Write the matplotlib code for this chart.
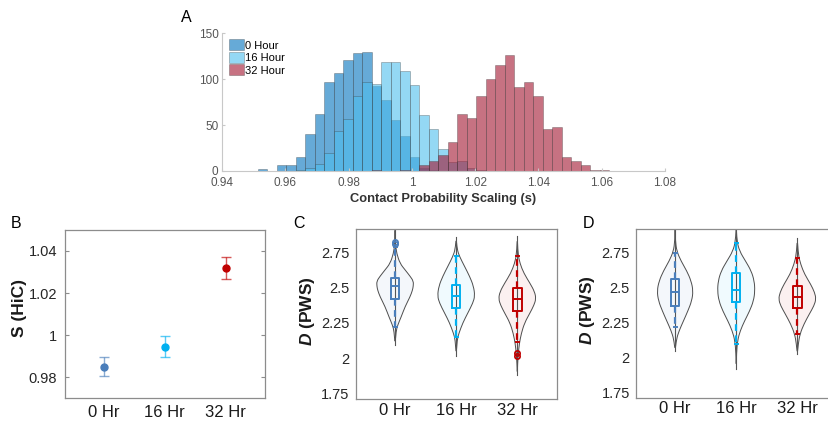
import numpy as np
import matplotlib
matplotlib.use("Agg")
import matplotlib.pyplot as plt
from matplotlib.colors import to_rgba
from matplotlib.path import Path
from matplotlib.patches import PathPatch

plt.rcParams['font.family'] = ['Liberation Sans', 'DejaVu Sans']
plt.rcParams['mathtext.fontset'] = 'custom'
plt.rcParams['mathtext.rm'] = 'Liberation Sans'
plt.rcParams['mathtext.bfit'] = 'Liberation Sans:italic:bold'

# --- Panel A: histogram counts, bins of 0.003 starting at 0.9513 ---
bin_start = 0.9513
bin_width = 0.003
hour0_counts = [2, 0, 6, 7, 15, 40, 62, 97, 106, 121, 128, 129, 92, 77, 55, 38, 15, 3, 1]
hour16_counts = [0, 0, 0, 0, 1, 3, 8, 20, 43, 57, 82, 97, 95, 118, 118, 109, 93, 61, 46,
                 24, 10, 11, 3, 1]
hour32_counts = [0] * 12 + [1, 0, 0, 1, 0, 7, 11, 17, 31, 62, 58, 81, 100, 115, 126, 91, 97,
                            82, 46, 48, 15, 11, 6, 1, 1]
hist_labels = ['0 Hour', '16 Hour', '32 Hour']
hist_colors = ['#0072BD', '#4DBEEE', '#A2142F']
a_xticks = [0.94, 0.96, 0.98, 1.00, 1.02, 1.04, 1.06, 1.08]
a_xtick_labels = ['0.94', '0.96', '0.98', '1', '1.02', '1.04', '1.06', '1.08']
a_yticks = [0, 50, 100, 150]

# --- Panel B: mean S (HiC) with error ---
groups = ['0 Hr', '16 Hr', '32 Hr']
group_colors = ['#4a7ebb', '#00b0f0', '#c00000']
b_means = [0.985, 0.9945, 1.0318]
b_errors = [0.0047, 0.005, 0.0053]
b_yticks = [0.98, 1.00, 1.02, 1.04]
b_ytick_labels = ['0.98', '1', '1.02', '1.04']

# --- Panels C and D: D (PWS) violins + boxplots ---
d_yticks = [1.75, 2.0, 2.25, 2.5, 2.75]
d_ytick_labels = ['1.75', '2', '2.25', '2.5', '2.75']

c_q1 = [2.417, 2.353, 2.336]
c_med = [2.511, 2.44, 2.42]
c_q3 = [2.570, 2.518, 2.495]
c_whislo = [2.218, 2.147, 2.116]
c_whishi = [2.79, 2.724, 2.724]
c_fliers = [[2.81, 2.826], [], [2.035, 2.012]]
c_line_lo = [2.09, 2.015, 1.88]
c_line_hi = [2.95, 2.856, 2.866]
c_violin_y = [
    [2.09, 2.19, 2.235, 2.29, 2.365, 2.435, 2.48, 2.51, 2.545, 2.58, 2.625, 2.67, 2.74, 2.81, 2.95],
    [2.015, 2.13, 2.175, 2.25, 2.32, 2.39, 2.44, 2.51, 2.58, 2.65, 2.72, 2.77, 2.856],
    [1.88, 1.96, 2.03, 2.10, 2.175, 2.25, 2.32, 2.375, 2.42, 2.47, 2.53, 2.60, 2.67, 2.74, 2.866],
]
c_violin_w = [
    [0, 0.016, 0.044, 0.098, 0.164, 0.246, 0.284, 0.298, 0.30, 0.246, 0.164, 0.082, 0.027, 0.005, 0],
    [0, 0.016, 0.044, 0.109, 0.191, 0.273, 0.306, 0.284, 0.219, 0.137, 0.055, 0.016, 0],
    [0, 0.005, 0.016, 0.033, 0.066, 0.12, 0.208, 0.273, 0.306, 0.284, 0.208, 0.109, 0.044, 0.011, 0],
]

d_q1 = [2.368, 2.396, 2.351]
d_med = [2.467, 2.479, 2.432]
d_q3 = [2.561, 2.599, 2.509]
d_whislo = [2.215, 2.097, 2.167]
d_whishi = [2.745, 2.816, 2.705]
d_fliers = [[], [], []]
d_line_lo = [2.042, 1.92, 2.021]
d_line_hi = [2.95, 2.95, 2.851]
d_violin_y = [
    [2.042, 2.13, 2.19, 2.26, 2.33, 2.403, 2.474, 2.545, 2.616, 2.686, 2.757, 2.83, 2.95],
    [1.92, 2.03, 2.12, 2.19, 2.26, 2.33, 2.403, 2.474, 2.545, 2.616, 2.686, 2.757, 2.83, 2.95],
    [2.021, 2.097, 2.167, 2.238, 2.309, 2.368, 2.415, 2.462, 2.521, 2.592, 2.663, 2.733, 2.851],
]
d_violin_w = [
    [0, 0.022, 0.066, 0.137, 0.208, 0.273, 0.295, 0.262, 0.191, 0.098, 0.027, 0.005, 0],
    [0, 0.005, 0.022, 0.066, 0.137, 0.219, 0.284, 0.306, 0.295, 0.246, 0.153, 0.055, 0.011, 0],
    [0, 0.016, 0.044, 0.109, 0.197, 0.273, 0.306, 0.284, 0.219, 0.12, 0.055, 0.016, 0],
]

positions = [1, 2, 3]

fig = plt.figure(figsize=(8.29, 4.26), dpi=100)

# ---------------- Panel A ----------------
ax_a = fig.add_axes([0.2678, 0.5986, 0.5344, 0.3239])
edges = bin_start + bin_width * np.arange(len(hour32_counts) + 1)
for counts, color, label in zip([hour0_counts, hour16_counts, hour32_counts],
                                hist_colors, hist_labels):
    counts = np.array(counts)
    left = edges[:len(counts)]
    keep = counts > 0
    ax_a.bar(left[keep], counts[keep], width=bin_width, align='edge',
             facecolor=to_rgba(color, 0.6), edgecolor=(0.2, 0.2, 0.2, 0.35),
             linewidth=0.6, label=label)
ax_a.set_xlim(0.94, 1.08)
ax_a.set_ylim(0, 150)
ax_a.set_xticks(a_xticks)
ax_a.set_xticklabels(a_xtick_labels)
ax_a.set_yticks(a_yticks)
for side in ['top', 'right']:
    ax_a.spines[side].set_visible(False)
for side in ['left', 'bottom']:
    ax_a.spines[side].set_color('#c8c8c8')
    ax_a.spines[side].set_linewidth(0.8)
ax_a.tick_params(direction='in', length=2.5, color='#c8c8c8', labelcolor='#555555',
                 labelsize=8.5)
ax_a.tick_params(axis='x', pad=4.5)
ax_a.tick_params(axis='y', pad=2.5)
ax_a.set_xlabel('Contact Probability Scaling (s)', fontsize=9.3, fontweight='bold',
                color='#333333', labelpad=3)
ax_a.legend(loc='upper left', bbox_to_anchor=(0.016, 0.955), frameon=False, fontsize=8,
            handlelength=1.3, handleheight=1.15, handletextpad=0.15, labelspacing=0.12,
            borderpad=0, borderaxespad=0)


def style_frame(ax):
    for side in ['top', 'right', 'left', 'bottom']:
        ax.spines[side].set_color('#8c8c8c')
        ax.spines[side].set_linewidth(0.9)
    ax.set_xlim(0.36, 3.65)
    ax.set_xticks(positions)
    ax.set_xticklabels(groups)
    ax.tick_params(axis='x', length=0, labelsize=12, labelcolor='#1a1a1a')
    ax.tick_params(axis='y', labelsize=10.5, labelcolor='#262626')


# ---------------- Panel B ----------------
ax_b = fig.add_axes([0.0784, 0.0657, 0.2413, 0.3944])
for p, m, e, c in zip(positions, b_means, b_errors, group_colors):
    ax_b.errorbar(p, m, yerr=e, fmt='o', color=c, ecolor=to_rgba(c, 0.65),
                  ms=5, elinewidth=1, capsize=3.5, capthick=1)
ax_b.set_ylim(0.97, 1.05)
ax_b.set_yticks(b_yticks)
ax_b.set_yticklabels(b_ytick_labels)
style_frame(ax_b)
ax_b.tick_params(axis='x', pad=5)
ax_b.tick_params(axis='y', direction='in', length=3, color='#8c8c8c', right=True, pad=5.5)
ax_b.set_ylabel('S (HiC)', fontsize=12.5, fontweight='bold', color='#1a1a1a')
ax_b.yaxis.set_label_coords(-0.19, 0.536)


def smooth_outline(xs, ys):
    # quadratic curves through midpoints of the read outline points (closed loop)
    pts = np.column_stack([xs, ys])
    n = len(pts)
    mids = (pts + np.roll(pts, -1, axis=0)) / 2
    verts = [mids[-1]]
    codes = [Path.MOVETO]
    for i in range(n):
        verts += [pts[i], mids[i]]
        codes += [Path.CURVE3, Path.CURVE3]
    verts.append(mids[-1])
    codes.append(Path.CLOSEPOLY)
    return Path(verts, codes)


def draw_violins(ax, vy, vw, lo, hi, q1, med, q3, wlo, whi, fliers):
    for i, p in enumerate(positions):
        c = group_colors[i]
        y = np.array(vy[i])
        w = np.array(vw[i])
        xs = np.concatenate([p + w, (p - w)[::-1][1:-1]])
        ys = np.concatenate([y, y[::-1][1:-1]])
        patch = PathPatch(smooth_outline(xs, ys), facecolor=to_rgba(c, 0.06),
                          edgecolor='#4d4d4d', linewidth=0.7, zorder=1)
        ax.add_patch(patch)
        ax.plot([p, p], [lo[i], hi[i]], color='#555555', lw=0.8, zorder=2)
        stats = [dict(med=med[i], q1=q1[i], q3=q3[i], whislo=wlo[i], whishi=whi[i],
                      fliers=fliers[i])]
        ax.bxp(stats, positions=[p], widths=0.14, capwidths=0.05, manage_ticks=False,
               boxprops=dict(color=c, lw=1.4),
               whiskerprops=dict(color=c, lw=1.6, linestyle=(0, (3.0, 2.0))),
               capprops=dict(color=c, lw=1.4),
               medianprops=dict(color=c, lw=1.4),
               flierprops=dict(marker='o', markersize=3.8, markerfacecolor='none',
                               markeredgecolor=c, markeredgewidth=1.2),
               zorder=3)


# ---------------- Panel C ----------------
ax_c = fig.add_axes([0.4294, 0.0634, 0.2425, 0.3991])
draw_violins(ax_c, c_violin_y, c_violin_w, c_line_lo, c_line_hi,
             c_q1, c_med, c_q3, c_whislo, c_whishi, c_fliers)
ax_c.set_ylim(1.71, 2.915)
ax_c.set_yticks(d_yticks)
ax_c.set_yticklabels(d_ytick_labels)
style_frame(ax_c)
ax_c.tick_params(axis='x', pad=3)
ax_c.tick_params(axis='y', length=0, pad=4.5)
ax_c.set_ylabel(r'$\mathbfit{D}$ (PWS)', fontsize=12.5, fontweight='bold', color='#1a1a1a')
ax_c.yaxis.set_label_coords(-0.194, 0.514)

# ---------------- Panel D ----------------
ax_d = fig.add_axes([0.7672, 0.0657, 0.2425, 0.3967])
draw_violins(ax_d, d_violin_y, d_violin_w, d_line_lo, d_line_hi,
             d_q1, d_med, d_q3, d_whislo, d_whishi, d_fliers)
ax_d.set_ylim(1.71, 2.915)
ax_d.set_yticks(d_yticks)
ax_d.set_yticklabels(d_ytick_labels)
style_frame(ax_d)
ax_d.tick_params(axis='x', pad=2.5)
ax_d.tick_params(axis='y', length=0, pad=4.5)
ax_d.set_ylabel(r'$\mathbfit{D}$ (PWS)', fontsize=12.5, fontweight='bold', color='#1a1a1a')
ax_d.yaxis.set_label_coords(-0.194, 0.52)

# panel letters
for letter, x, y in [('A', 186, 18), ('B', 16, 223), ('C', 299, 223), ('D', 588, 223)]:
    fig.text(x / 829, 1 - y / 426, letter, fontsize=11.5, ha='center', va='center')

fig.savefig('out.png', dpi=100)
